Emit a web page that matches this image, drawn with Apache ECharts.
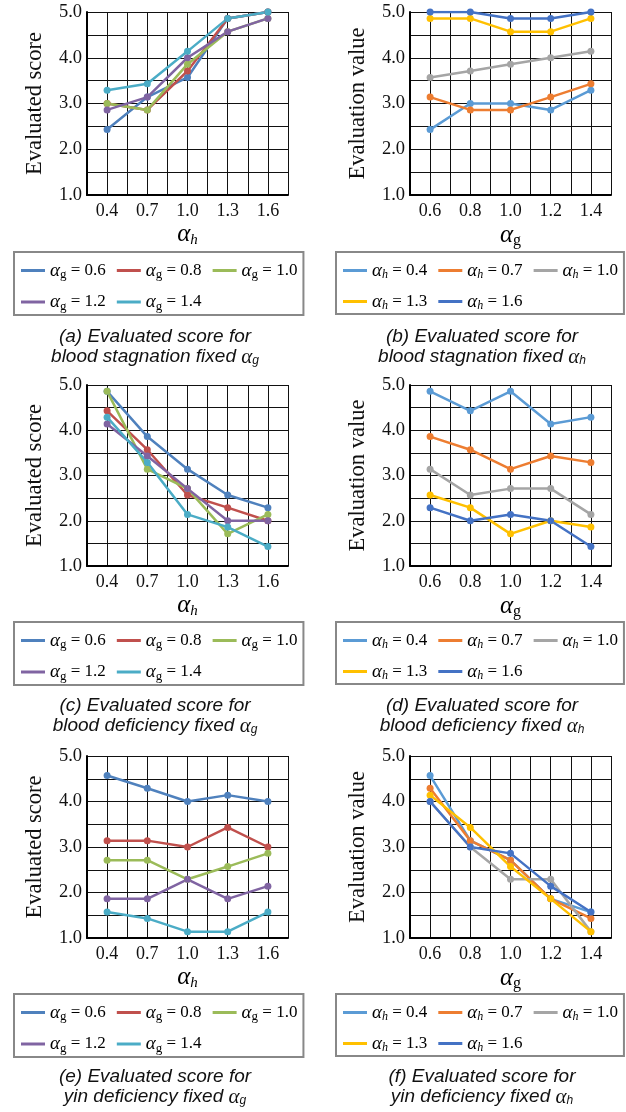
<!DOCTYPE html>
<html><head><meta charset="utf-8">
<script src="https://cdn.jsdelivr.net/npm/echarts@6/dist/echarts.min.js"></script>
<style>html,body{margin:0;padding:0;background:#fff}#c{width:626px;height:1112px}</style>
</head><body><div id="c"></div>
<script>
// ---- categories / tick labels ----
const catsH = ['0.4', '0.7', '1.0', '1.3', '1.6'];
const catsG = ['0.6', '0.8', '1.0', '1.2', '1.4'];
const yTickLabels = ['1.0', '2.0', '3.0', '4.0', '5.0'];
const namesG = ['αg = 0.6', 'αg = 0.8', 'αg = 1.0', 'αg = 1.2', 'αg = 1.4'];
const namesH = ['αh = 0.4', 'αh = 0.7', 'αh = 1.0', 'αh = 1.3', 'αh = 1.6'];

// ---- (a) blood stagnation, fixed alpha_g (x = alpha_h) ----
const a_g06 = [2.43, 3.14, 3.57, 4.86, 5.00];
const a_g08 = [3.00, 2.86, 3.71, 4.86, 5.00];
const a_g10 = [3.00, 2.86, 3.86, 4.57, 4.86];
const a_g12 = [2.86, 3.14, 4.00, 4.57, 4.86];
const a_g14 = [3.29, 3.43, 4.14, 4.86, 5.00];
// ---- (b) blood stagnation, fixed alpha_h (x = alpha_g) ----
const b_h04 = [2.43, 3.00, 3.00, 2.86, 3.29];
const b_h07 = [3.14, 2.86, 2.86, 3.14, 3.43];
const b_h10 = [3.57, 3.71, 3.86, 4.00, 4.14];
const b_h13 = [4.86, 4.86, 4.57, 4.57, 4.86];
const b_h16 = [5.00, 5.00, 4.86, 4.86, 5.00];
// ---- (c) blood deficiency, fixed alpha_g ----
const c_g06 = [4.86, 3.86, 3.14, 2.57, 2.29];
const c_g08 = [4.43, 3.57, 2.57, 2.29, 2.00];
const c_g10 = [4.86, 3.14, 2.71, 1.71, 2.14];
const c_g12 = [4.14, 3.43, 2.71, 2.00, 2.00];
const c_g14 = [4.29, 3.29, 2.14, 1.86, 1.43];
// ---- (d) blood deficiency, fixed alpha_h ----
const d_h04 = [4.86, 4.43, 4.86, 4.14, 4.29];
const d_h07 = [3.86, 3.57, 3.14, 3.43, 3.29];
const d_h10 = [3.14, 2.57, 2.71, 2.71, 2.14];
const d_h13 = [2.57, 2.29, 1.71, 2.00, 1.86];
const d_h16 = [2.29, 2.00, 2.14, 2.00, 1.43];
// ---- (e) yin deficiency, fixed alpha_g ----
const e_g06 = [4.57, 4.29, 4.00, 4.14, 4.00];
const e_g08 = [3.14, 3.14, 3.00, 3.43, 3.00];
const e_g10 = [2.71, 2.71, 2.29, 2.57, 2.86];
const e_g12 = [1.86, 1.86, 2.29, 1.86, 2.14];
const e_g14 = [1.57, 1.43, 1.14, 1.14, 1.57];
// ---- (f) yin deficiency, fixed alpha_h ----
const f_h04 = [4.57, 3.14, 2.71, 1.86, 1.57];
const f_h07 = [4.29, 3.14, 2.71, 1.86, 1.43];
const f_h10 = [4.00, 3.00, 2.29, 2.29, 1.14];
const f_h13 = [4.14, 3.43, 2.57, 1.86, 1.14];
const f_h16 = [4.00, 3.00, 2.86, 2.14, 1.57];

const colorsG = ['#4F81BD', '#C0504D', '#9BBB59', '#8064A2', '#4BACC6'];
const colorsH = ['#5B9BD5', '#ED7D31', '#A5A5A5', '#FFC000', '#4472C4'];

const panels = [
  {vals: [a_g06, a_g08, a_g10, a_g12, a_g14], names: namesG, colors: colorsG, cats: catsH, xsub: 'h', yname: 'Evaluated score', cap: ['(a) Evaluated score for', 'blood stagnation fixed '], capSub: 'g'},
  {vals: [b_h04, b_h07, b_h10, b_h13, b_h16], names: namesH, colors: colorsH, cats: catsG, xsub: 'g', yname: 'Evaluation value', cap: ['(b) Evaluated score for', 'blood stagnation fixed '], capSub: 'h'},
  {vals: [c_g06, c_g08, c_g10, c_g12, c_g14], names: namesG, colors: colorsG, cats: catsH, xsub: 'h', yname: 'Evaluated score', cap: ['(c) Evaluated score for', 'blood deficiency fixed '], capSub: 'g'},
  {vals: [d_h04, d_h07, d_h10, d_h13, d_h16], names: namesH, colors: colorsH, cats: catsG, xsub: 'g', yname: 'Evaluation value', cap: ['(d) Evaluated score for', 'blood deficiency fixed '], capSub: 'h'},
  {vals: [e_g06, e_g08, e_g10, e_g12, e_g14], names: namesG, colors: colorsG, cats: catsH, xsub: 'h', yname: 'Evaluated score', cap: ['(e) Evaluated score for', 'yin deficiency fixed '], capSub: 'g'},
  {vals: [f_h04, f_h07, f_h10, f_h13, f_h16], names: namesH, colors: colorsH, cats: catsG, xsub: 'g', yname: 'Evaluation value', cap: ['(f) Evaluated score for', 'yin deficiency fixed '], capSub: 'h'}
];

const SERIF = 'Liberation Serif';
const SANS = 'Liberation Sans';
const rowTop = [12, 385, 756];
const rowH = [183, 181, 182];
const colLeft = [87, 410];
const gridW = 201;
const legTop = [252, 622, 994];
const legLeft = [14, 336];
const capTop = [327, 696, 1067];
const capX = [155, 482];

const isInt = v => Math.abs(v - Math.round(v)) < 1e-6;

const grids = [], xAxes = [], yAxes = [], series = [], legends = [], titles = [];
panels.forEach((p, i) => {
  const col = i % 2, row = Math.floor(i / 2);
  grids.push({left: colLeft[col], top: rowTop[row], width: gridW, height: rowH[row], outerBoundsMode: 'none', containLabel: false});
  xAxes.push({
    gridIndex: i, type: 'value', min: -0.5, max: 4.5, interval: 0.5,
    name: '{a|α}{' + (p.xsub === 'h' ? 'hi' : 'gu') + '|' + p.xsub + '}',
    nameLocation: 'middle', nameGap: 26,
    nameTextStyle: {rich: {
      a: {fontFamily: SERIF, fontStyle: 'italic', fontSize: 25, color: '#000'},
      hi: {fontFamily: SERIF, fontStyle: 'italic', fontSize: 15, color: '#000', padding: [12, 0, 0, 0]},
      gu: {fontFamily: SERIF, fontSize: 16, color: '#000', padding: [12, 0, 0, 0]}
    }},
    axisLine: {show: true, onZero: false, lineStyle: {color: '#000', width: 2}},
    axisTick: {show: false},
    axisLabel: {fontFamily: SERIF, fontSize: 18, color: '#111', margin: 7,
      formatter: v => (isInt(v) && v >= 0 && v < p.cats.length) ? p.cats[Math.round(v)] : ''},
    splitLine: {show: true, lineStyle: {color: '#111', width: 1}}
  });
  yAxes.push({
    gridIndex: i, type: 'value', min: 1, max: 5, interval: 0.5,
    name: p.yname, nameLocation: 'middle', nameGap: 40,
    nameTextStyle: {fontFamily: SERIF, fontSize: 22.5, color: '#111'},
    axisLine: {show: true, onZero: false, lineStyle: {color: '#000', width: 2}},
    axisTick: {show: false},
    axisLabel: {fontFamily: SERIF, fontSize: 18.5, color: '#111', margin: 5,
      formatter: v => isInt(v) ? yTickLabels[Math.round(v) - 1] : ''},
    splitLine: {show: true, lineStyle: {color: '#111', width: 1}}
  });
  p.vals.forEach((vals, k) => {
    series.push({
      type: 'line', name: p.names[k], xAxisIndex: i, yAxisIndex: i,
      data: vals.map((v, j) => [j, v]),
      symbol: 'circle', symbolSize: 7, color: p.colors[k],
      lineStyle: {width: 2.5, color: p.colors[k]},
      itemStyle: {color: p.colors[k]},
      emphasis: {disabled: true}
    });
  });
  legends.push({
    left: legLeft[col], top: legTop[row], width: 320, orient: 'horizontal',
    data: p.names, icon: 'rect', itemWidth: 24, itemHeight: 3, itemGap: 11,
    padding: [9, 6, 2, 7], borderColor: '#888', borderWidth: 2,
    selectedMode: false,
    formatter: n => '{a|α}{' + (n[1] === 'h' ? 'hi' : 'gu') + '|' + n[1] + '}{t|' + n.slice(2) + '}',
    textStyle: {rich: {
      a: {fontFamily: SERIF, fontStyle: 'italic', fontSize: 19, color: '#000', lineHeight: 20},
      hi: {fontFamily: SERIF, fontStyle: 'italic', fontSize: 12, color: '#000', padding: [9, 0, 0, 0]},
      gu: {fontFamily: SERIF, fontSize: 13, color: '#000', padding: [9, 0, 0, 0]},
      t: {fontFamily: SERIF, fontSize: 17, color: '#000', lineHeight: 20}
    }}
  });
  titles.push({
    text: '{i|' + p.cap[0] + '}\n{i|' + p.cap[1] + '}{a|α}{s|' + p.capSub + '}',
    left: capX[col], top: capTop[row], textAlign: 'center', padding: 0,
    textStyle: {fontWeight: 'normal', rich: {
      i: {fontFamily: SANS, fontStyle: 'italic', fontWeight: 'normal', fontSize: 19, color: '#111', lineHeight: 20},
      a: {fontFamily: SERIF, fontStyle: 'italic', fontWeight: 'normal', fontSize: 21, color: '#111', lineHeight: 20},
      s: {fontFamily: SANS, fontStyle: 'italic', fontWeight: 'normal', fontSize: 12, color: '#111', padding: [7, 0, 0, 0]}
    }}
  });
});

const chart = echarts.init(document.getElementById('c'), null, {renderer: 'canvas'});
chart.setOption({
  animation: false,
  backgroundColor: '#fff',
  title: titles, grid: grids, xAxis: xAxes, yAxis: yAxes, legend: legends, series: series
});
</script></body></html>
